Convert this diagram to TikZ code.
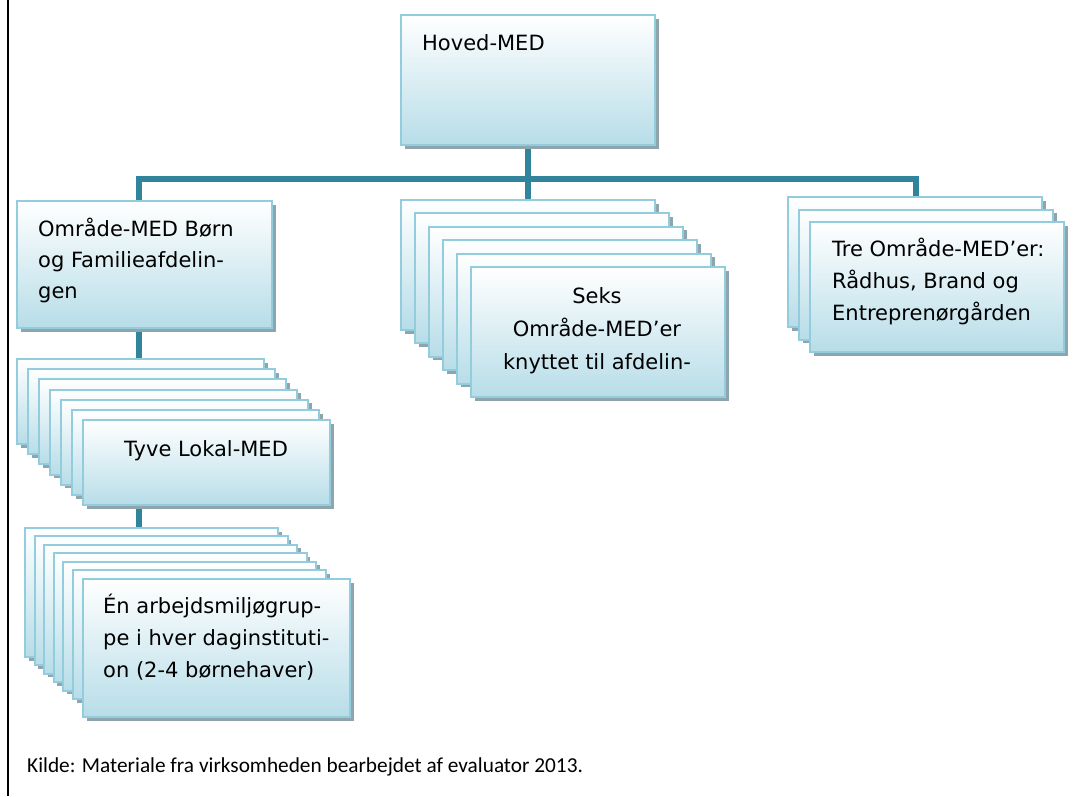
\documentclass[tikz,border=0pt]{standalone}
\usepackage{fontspec}
\usetikzlibrary{shadows,backgrounds}
\newfontfamily\boxfont{DejaVu Sans}
\newfontfamily\notefont{Carlito}
\definecolor{medline}{HTML}{93CDDD}
\definecolor{medfill}{HTML}{B7DDE8}
\definecolor{medmid}{HTML}{DDEEF3}
\definecolor{conncol}{HTML}{31849B}
\definecolor{shadowcol}{HTML}{8FA5AD}
\tikzset{
  medbox/.style={rectangle, draw=medline, line width=2pt, inner sep=0pt, outer sep=0pt,
    anchor=north west, top color=white, middle color=medmid, bottom color=medfill,
    drop shadow={shadow xshift=3.5pt, shadow yshift=-3.5pt, fill=shadowcol, opacity=1}},
  conn/.style={draw=conncol, line width=6pt, line join=miter, line cap=butt},
  lbl/.style={font=\boxfont\fontsize{21}{32}\selectfont, inner sep=0pt, anchor=base west},
  lblc/.style={font=\boxfont\fontsize{21}{32}\selectfont, inner sep=0pt, anchor=base},
  note/.style={font=\notefont\fontsize{21.3}{26}\selectfont, inner sep=0pt, anchor=base west}
}
\begin{document}
\begin{tikzpicture}[x=1pt, y=-1pt]
\useasboundingbox (0,0) rectangle (1077,796);

% left rule of the frame
\draw[line width=2pt, black] (7.5,0) -- (7.5,796);

% top box
\node[medbox, minimum width=254pt, minimum height=130pt] (hm) at (401,15) {};
\node[lbl] (hmT) at (422,50) {Hoved-MED};

% left area box
\node[medbox, minimum width=255pt, minimum height=127pt] (om) at (17,201) {};
\node[lbl] (omT1) at (38,236) {Område-MED Børn};
\node[lbl] (omT2) at (38,267) {og Familieafdelin-};
\node[lbl] (omT3) at (38,298) {gen};

% middle stack of six
\foreach \i in {1,...,6} {
  \pgfmathsetmacro\bx{401+14*(\i-1)}
  \pgfmathsetmacro\by{200+13.4*(\i-1)}
  \node[medbox, minimum width=254pt, minimum height=130pt] (seks\i) at (\bx,\by) {};
}
\node[lblc] (seksT1) at (597,303) {Seks};
\node[lblc] (seksT2) at (597,336) {Område-MED’er};
\node[lblc] (seksT3) at (597,369) {knyttet til afdelin-};

% right stack of three
\foreach \i in {1,...,3} {
  \pgfmathsetmacro\bx{788+11*(\i-1)}
  \pgfmathsetmacro\by{197+12.5*(\i-1)}
  \node[medbox, minimum width=254pt, minimum height=130pt] (tre\i) at (\bx,\by) {};
}
\node[lbl] (treT1) at (832,256) {Tre Område-MED’er:};
\node[lbl] (treT2) at (832,288) {Rådhus, Brand og};
\node[lbl] (treT3) at (832,320) {Entreprenørgården};

% local committees: stack of seven
\foreach \i in {1,...,7} {
  \pgfmathsetmacro\bx{17+11*(\i-1)}
  \pgfmathsetmacro\by{359+10.2*(\i-1)}
  \node[medbox, minimum width=247pt, minimum height=85pt] (tyve\i) at (\bx,\by) {};
}
\node[lblc] (tyveT) at (206,456) {Tyve Lokal-MED};

% working-environment groups: stack of seven, the front one a little larger
\foreach \i in {1,...,6} {
  \pgfmathsetmacro\bx{25+9.6*(\i-1)}
  \pgfmathsetmacro\by{528+8.4*(\i-1)}
  \node[medbox, minimum width=253pt, minimum height=129pt] (en\i) at (\bx,\by) {};
}
\node[medbox, minimum width=267pt, minimum height=138pt] (en7) at (83,579) {};
\node[lbl] (enT1) at (103,613) {Én arbejdsmiljøgrup-};
\node[lbl] (enT2) at (103,645) {pe i hver daginstituti-};
\node[lbl] (enT3) at (103,677) {on (2-4 børnehaver)};

% connectors, kept behind the boxes
\coordinate (bl) at (139,179);
\coordinate (br) at (916,179);
\begin{pgfonlayer}{background}
  \draw[conn] (hm.south) -- (hm.south |- seks1.north);
  \draw[conn] (bl |- om.north) -- (bl) -- (br) -- (br |- tre1.north);
  \draw[conn] (bl |- om.south) -- (bl |- tyve1.north);
  \draw[conn] (bl |- tyve7.south) -- (bl |- en1.north);
\end{pgfonlayer}

% source note
\node[note] (src) at (27,772) {Kilde: Materiale fra virksomheden bearbejdet af evaluator 2013.};
\end{tikzpicture}
\end{document}
